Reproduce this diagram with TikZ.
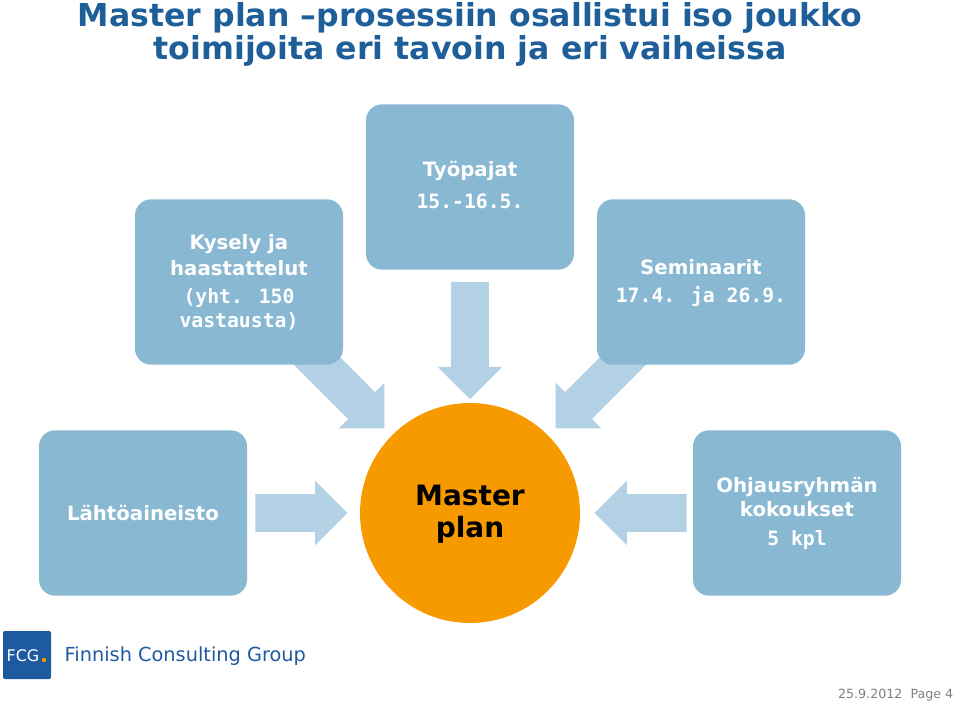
\documentclass[tikz,border=0pt]{standalone}
\usepackage{fontspec}
\setmainfont{DejaVu Sans}
\newfontfamily\monob{DejaVu Sans Mono}
\usetikzlibrary{shapes.arrows}
\definecolor{boxc}{RGB}{137,184,211}
\definecolor{arrc}{RGB}{178,209,228}
\definecolor{orng}{RGB}{247,154,0}
\definecolor{titc}{RGB}{31,95,153}
\definecolor{fcg}{RGB}{30,90,160}
\tikzset{
 bx/.style={fill=boxc,rounded corners=12pt,minimum width=156pt,minimum height=124pt,inner sep=0pt},
 bt/.style={text=white,font=\bfseries\fontsize{14.8}{16}\selectfont,anchor=center},
 bm/.style={text=white,font=\monob\bfseries\fontsize{14.8}{16}\selectfont,anchor=center},
 barr/.style={single arrow,fill=arrc,inner xsep=0pt,inner ysep=14pt,minimum height=#1,minimum width=0pt,single arrow head extend=10pt,single arrow tip angle=90},
 barr/.default=88pt,
}
\begin{document}
\begin{tikzpicture}[x=0.75pt,y=-0.75pt]
\useasboundingbox (0,0) rectangle (960,703);
\node[text=titc,font=\bfseries\fontsize{23.7}{24.7}\selectfont,align=center] (title) at (470,34)
 {Master plan –prosessiin osallistui iso joukko\\toimijoita eri tavoin ja eri vaiheissa};
% arrows
\node[barr] (a1) at (470,331) [rotate=-90] {};
\node[barr=82pt] (a2) at (339,383) [rotate=-45] {};
\node[barr=82pt] (a3) at (601,383) [rotate=-135] {};
\node[barr=69pt] (a4) at (292,513) {};
\node[barr=69pt] (a5) at (650,513) [rotate=180] {};
\node[bx] (k) at (239,282) {};
\node[bx] (t) at (470,187) {};
\node[bx] (s) at (701,282) {};
\node[bx] (l) at (143,513) {};
\node[bx] (o) at (797,513) {};
\node[circle,fill=orng,minimum size=165pt,inner sep=0pt] (m) at (470,513) {};
\node[font=\bfseries\fontsize{21}{24}\selectfont,align=center] (mt) at (470,514) {Master\\plan};
\node[bt] (k1) at (239,244) {Kysely ja};
\node[bt] (k2) at (239,268) {haastattelut};
\node[bm] (k3) at (239,298) {(yht. 150};
\node[bm] (k4) at (239,321) {vastausta)};
\node[bt] (t1) at (470,171) {Työpajat};
\node[bm] (t2) at (470,201) {15.-16.5.};
\node[bt] (s1) at (701,267) {Seminaarit};
\node[bm] (s2) at (701,297) {17.4. ja 26.9.};
\node[bt] (l1) at (143,513) {Lähtöaineisto};
\node[bt] (o1) at (797,487) {Ohjausryhmän};
\node[bt] (o2) at (797,509) {kokoukset};
\node[bm] (o3) at (797,540) {5 kpl};
% logo
\node[fill=fcg,minimum width=36pt,minimum height=36pt,inner sep=0pt,rounded corners=1pt] (logo) at (27,655) {};
\node[text=white,font=\fontsize{12}{12}\selectfont] (lt) at (23,656) {FCG};
\fill[orng] (44,660) circle (2.2);
\node[anchor=west,text=fcg,font=\fontsize{14.5}{15}\selectfont] (lg) at (60,656) {Finnish Consulting Group};
\node[anchor=east,text=gray,font=\fontsize{9.5}{10}\selectfont] (dt) at (958,695) {25.9.2012\ \ Page 4};
\end{tikzpicture}
\end{document}
